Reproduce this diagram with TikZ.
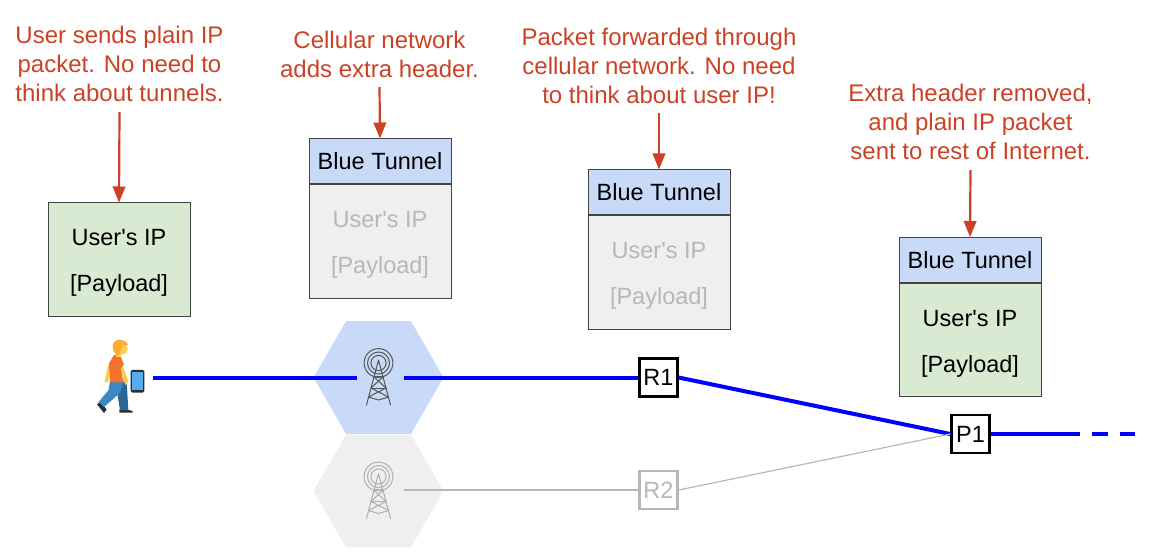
\documentclass[tikz,border=0pt]{standalone}
\usepackage{fontspec}
\setmainfont{Liberation Sans}
\usetikzlibrary{shapes.geometric,arrows.meta}
\definecolor{noteRed}{HTML}{CC4125}
\definecolor{hdrBlue}{HTML}{C9DAF8}
\definecolor{bodyGreen}{HTML}{D9EAD3}
\definecolor{bodyGray}{HTML}{EFEFEF}
\definecolor{fadeGray}{HTML}{B7B7B7}
\definecolor{edgeGray}{HTML}{434343}
\definecolor{netBlue}{HTML}{0000FF}
\definecolor{skin}{HTML}{FFCC4D}
\definecolor{hair}{HTML}{FFAC33}
\definecolor{shirt}{HTML}{F4722B}
\definecolor{jeanA}{HTML}{2A6797}
\definecolor{jeanB}{HTML}{3B88C3}
\definecolor{shoe}{HTML}{292F33}
\definecolor{screen}{HTML}{55ACEE}
\newcommand{\dropline}[2]{\raisebox{-#1pt}[\height][\depth]{#2}}
\newcommand{\pkttext}{\dropline{3.5}{User\textquotesingle s IP}\\\dropline{3.5}{[Payload]}}
\tikzset{
  note/.style={text=noteRed,align=center,inner sep=0pt,font=\fontsize{24}{29}\selectfont},
  notearrow/.style={draw=noteRed,line width=2.2pt,-{Triangle[length=16pt,width=12.5pt]}},
  header/.style={draw=edgeGray,line width=1pt,fill=hdrBlue,minimum width=142pt,minimum height=45pt,inner sep=0pt,font=\fontsize{23.5}{28}\selectfont},
  body/.style={draw=edgeGray,line width=1pt,minimum width=142pt,minimum height=113pt,inner sep=0pt,align=center,font=\fontsize{23.5}{46}\selectfont},
  greenbody/.style={body,fill=bodyGreen},
  graybody/.style={body,fill=bodyGray,text=fadeGray},
  router/.style={draw=black,line width=2.2pt,fill=white,minimum width=38pt,minimum height=38pt,inner sep=0pt,font=\fontsize{23.5}{28}\selectfont},
  fadedrouter/.style={router,draw=fadeGray,text=fadeGray},
  hex/.style={regular polygon,regular polygon sides=6,shape border rotate=0,minimum size=130pt,inner sep=0pt},
  anchorbox/.style={minimum width=47pt,minimum height=2pt,inner sep=0pt},
  bluelink/.style={draw=netBlue,line width=4pt},
  graylink/.style={draw=fadeGray,line width=1.2pt},
}
\newcommand{\celltower}[1]{%
  \begin{scope}[draw=#1,line width=1pt,line cap=round,line join=round]
    \draw (378.5,363) circle (14.4pt) (378.5,363) circle (11pt) (378.5,363) circle (7.6pt);
    \draw (378.5,360) -- (366.5,405) (378.5,360) -- (390.5,405);
    \draw (374,377) -- (386,388) -- (368.5,397) (383,377) -- (371,388) -- (388.5,397);
    \draw (374.5,376) -- (382.5,376) (371,388) -- (386,388);
    \draw (368.5,397) -- (378.5,400) -- (388.5,397);
  \end{scope}}
\begin{document}
\begin{tikzpicture}[x=1pt,y=-1pt]
\useasboundingbox (0,0) rectangle (1153,553);
% cells
\node[hex,fill=hdrBlue] (cellA) at (378.5,377.5) {};
\node[hex,fill=bodyGray] (cellB) at (378.5,491) {};
\celltower{edgeGray!90!white}
\begin{scope}[yshift=-113.5pt]
\celltower{fadeGray!85!gray}
\end{scope}
% anchors for links
\node[anchorbox] (towerA) at (380.5,377.5) {};
\node[anchorbox] (towerB) at (380.5,490) {};
\node[minimum width=66pt,minimum height=2pt,inner sep=0pt] (user) at (120,377.5) {};
% routers
\node[router] (R1) at (658.5,377.5) {R1};
\node[fadedrouter] (R2) at (658.5,490) {R2};
\node[router] (P1) at (970.5,434) {P1};
\coordinate (solidEnd) at (1080,434);
\coordinate (dashStart) at (1092,434);
\coordinate (lineEnd) at (1135,434);
% links
\draw[bluelink] (user) -- (towerA.west);
\draw[bluelink] (towerA.east) -- (R1.west);
\draw[bluelink] (R1.east) -- (P1.west);
\draw[graylink] (towerB.east) -- (R2.west);
\draw[graylink] (R2.east) -- (P1.west);
\draw[bluelink] (P1.east) -- (solidEnd);
\draw[bluelink,dash pattern=on 16pt off 12pt] (dashStart) -- (lineEnd);
% person
\begin{scope}[shift={(90,335)},x=0.3333pt,y=-0.3333pt]
  \fill[rounded corners=1.5pt,fill=shoe] (122,105) rectangle (163,173);
  \fill[fill=screen] (127,112) rectangle (158,165);
  \fill[fill=shoe] (21,208) -- (32,200) -- (50,224) -- (42,234) -- cycle;
  \fill[fill=shoe] (88,224) -- (112,224) -- (128,228) -- (128,233) -- (88,233) -- cycle;
  \fill[fill=jeanA] (72,140) -- (110,140) -- (115,224) -- (90,226) -- (82,175) -- cycle;
  \fill[fill=jeanB] (60,138) -- (102,138) -- (90,174) -- (42,216) -- (26,201) -- (56,165) -- cycle;
  \fill[fill=skin] (54,92) -- (64,95) -- (54,143) -- (44,140) -- cycle;
  \fill[fill=skin] (84,85) -- (94,80) -- (116,142) -- (106,150) -- cycle;
  \fill[fill=shirt] (72,60) -- (90,60) -- (102,88) -- (92,100) -- (100,142) -- (60,142) -- (57,85) -- cycle;
  \fill[fill=skin] (96,42) circle (17);
  \fill[fill=skin] (78,45) rectangle (92,65);
  \fill[fill=hair] (68,32) .. controls (70,10) and (105,8) .. (115,30) -- (100,30) .. controls (92,36) and (92,48) .. (86,60) -- (78,60) .. controls (72,52) and (67,42) .. (68,32) -- cycle;
\end{scope}
% packets
\node[greenbody] (pktUser) at (119,259.5) {\pkttext};
\node[graybody,anchor=north] (bodyA) at (380,184.5) {\pkttext};
\node[header,anchor=south] (hdrA) at (380,184.5) {Blue Tunnel};
\node[graybody,anchor=north] (bodyB) at (659,215.5) {\pkttext};
\node[header,anchor=south] (hdrB) at (659,215.5) {Blue Tunnel};
\node[greenbody,anchor=north] (bodyC) at (970,283) {\pkttext};
\node[header,anchor=south] (hdrC) at (970,283) {Blue Tunnel};
% notes
\node[note,minimum height=96pt] (noteA) at (119.5,64) {User sends plain IP\\packet. No need to\\think about tunnels.};
\node[note,minimum height=65pt] (noteB) at (379.5,54.5) {Cellular network\\adds extra header.};
\node[note,minimum height=95pt] (noteC) at (659,65.5) {Packet forwarded through\\cellular network. No need\\to think about user IP!};
\node[note,minimum height=97pt] (noteD) at (970.5,121.5) {Extra header removed,\\and plain IP packet\\sent to rest of Internet.};
\draw[notearrow] (noteA.south) -- (pktUser.north);
\draw[notearrow] (noteB.south) -- (hdrA.north);
\draw[notearrow] (noteC.south) -- (hdrB.north);
\draw[notearrow] (noteD.south) -- (hdrC.north);
\end{tikzpicture}
\end{document}
